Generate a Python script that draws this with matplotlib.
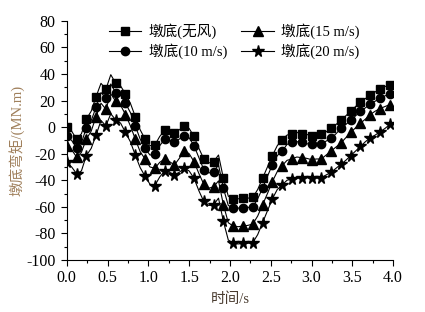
import numpy as np
import matplotlib
matplotlib.use('Agg')
import matplotlib.pyplot as plt

plt.rcParams['font.family'] = ['Liberation Serif', 'Noto Sans CJK SC']
plt.rcParams['axes.unicode_minus'] = False

# marker samples every 0.12 s
t_mark = np.round(np.arange(34) * 0.12, 2)
# extra line points halfway between markers
t_mid = t_mark[:-1] + 0.06

s0_mark = [0, -9, 6, 23, 28.5, 33, 25, 8, -9, -13.5, -2.5, -4.5, 1, -7, -24, -26, -38.5,
           -54, -53.5, -53, -38.5, -21.5, -9.5, -5, -5, -6.5, -5.5, -1, 5, 12, 19, 24, 29, 32]
s0_mid = [-3, -5, 12, 33, 39.5, 31, 18, -2, -14, -7, -3, -2, -1, -16, -27, -21, -52,
          -54, -53.5, -47, -30, -14, -6, -4, -5.5, -6, -3.5, 2, 8.5, 15.5, 21.5, 26.5, 30.5]

s10_mark = [-7, -15.5, -0.5, 15, 22, 26, 18, 1, -16, -20.5, -9, -11.5, -6.5, -14, -32, -33.5, -46,
            -61, -61, -60, -46, -28.5, -18, -11.5, -11.5, -13, -12.5, -8.5, -1, 5, 12, 17.5, 22, 25]
s10_mid = [-10, -12, 5, 26, 32.5, 24, 11, -9, -21, -14, -10, -9, -8, -23, -34.5, -28.5, -59,
           -61, -60.5, -54, -37, -21.5, -13, -11, -12.5, -13, -10.5, -5, 2, 8.5, 14.5, 19.5, 23.5]

s15_mark = [-14.5, -22.5, -9, 8, 13.5, 19.5, 9.5, -9, -24, -31, -24, -28.5, -18, -26, -43, -45, -58.5,
            -74.5, -74.5, -73, -58.5, -41, -29, -24, -23, -24.5, -24, -18, -12, -4, 3, 9.5, 14, 17]
s15_mid = [-17, -19, -3, 18, 25, 16.5, 1, -18.5, -30, -26.5, -26, -23.5, -20, -35, -46, -40.5, -72,
           -75, -74, -67, -50, -33.5, -25, -22.5, -23.5, -24, -21, -15, -8, -0.5, 6, 12, 15.5]

s20_mark = [-26.5, -35, -21.5, -6, 1, 5.5, -4, -21, -37, -44, -33, -36, -31, -38.5, -56, -58.5, -71,
            -87.5, -87.5, -87, -72, -54, -43.5, -39, -38, -38.5, -38, -34, -28, -21.5, -14.5, -8, -3.5, 2]
s20_mid = [-30, -33, -16, 5, 10, 3, -11, -30.5, -43, -37.5, -34, -34, -33, -48, -59, -53.5, -85,
           -88, -87.5, -81, -63, -47, -40, -37.5, -38, -38, -36, -31, -25, -18, -11, -6, -1]

labels = ['墩底(无风)', '墩底(10 m/s)', '墩底(15 m/s)', '墩底(20 m/s)']
markers = ['s', 'o', '^', '*']
msizes = [6, 6, 6.5, 8.5]


def join(mark, mid):
    t = np.empty(len(t_mark) + len(t_mid))
    v = np.empty_like(t)
    t[0::2] = t_mark
    t[1::2] = t_mid
    v[0::2] = mark
    v[1::2] = mid
    return t, v


fig = plt.figure(figsize=(4.25, 3.12), dpi=100)
ax = fig.add_axes([0.157, 0.167, 0.768, 0.766])

series = [(s0_mark, s0_mid), (s10_mark, s10_mid), (s15_mark, s15_mid), (s20_mark, s20_mid)]
for (mk, md), lab, m, ms in zip(series, labels, markers, msizes):
    t, v = join(mk, md)
    ax.plot(t, v, color='black', lw=0.8)
    ax.plot(t_mark, mk, linestyle='none', marker=m, ms=ms, color='black')
    ax.plot([], [], color='black', lw=0.8, marker=m, ms=ms, label=lab)

ax.set_xlim(0, 4.0)
ax.set_ylim(-100, 80)
ax.set_xticks(np.arange(0, 4.01, 0.5))
ax.set_xticks(np.arange(0, 4.01, 0.25), minor=True)
ax.set_yticks(np.arange(-100, 81, 20))
ax.set_yticks(np.arange(-100, 81, 10), minor=True)
ax.set_xticklabels(['%.1f' % v for v in np.arange(0, 4.01, 0.5)])
ax.spines['top'].set_visible(False)
ax.spines['right'].set_visible(False)
ax.tick_params(which='major', length=4, width=0.8, labelsize=11.5, direction='out', pad=4)
ax.tick_params(which='minor', length=2, width=0.8, direction='out')
ax.tick_params(axis='x', pad=3)

ax.set_xlabel('时间/s', fontsize=10.5, color='#4a3c30', labelpad=5)
ax.set_ylabel('墩底弯矩/(MN.m)', fontsize=10.5, color='#a0805c', labelpad=1)

ax.legend(loc='upper left', bbox_to_anchor=(0.13, 0.99), ncol=2, frameon=False,
          fontsize=10.5, handlelength=2.2, handletextpad=0.5, columnspacing=1.0,
          borderpad=0, borderaxespad=0, labelspacing=0.3)

fig.savefig('out.png', dpi=100)
